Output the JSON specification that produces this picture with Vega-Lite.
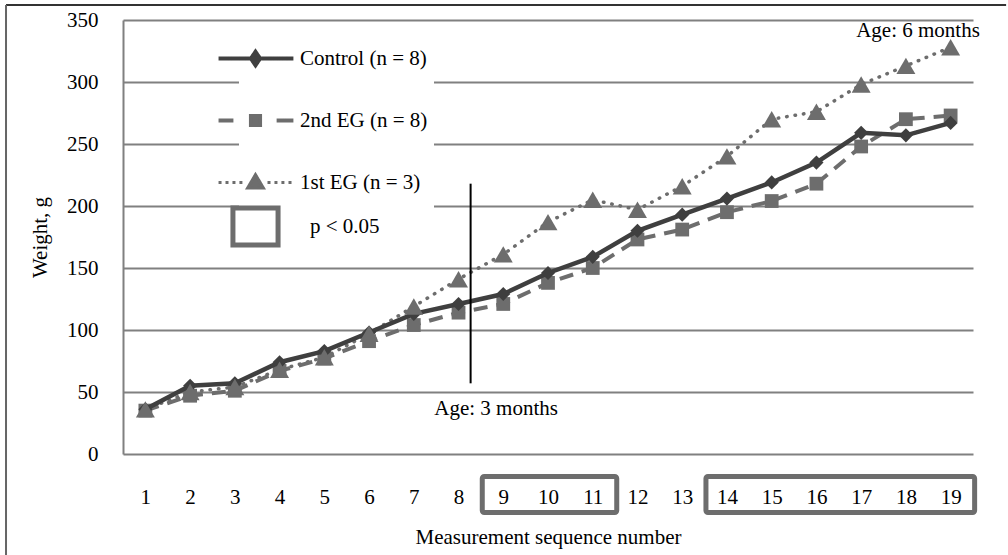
{
  "$schema": "https://vega.github.io/schema/vega-lite/v6.json",
  "width": 850,
  "height": 434,
  "padding": {"left": 5, "top": 3, "right": 0, "bottom": 0},
  "background": "white",
  "config": {
    "view": {"stroke": null},
    "font": "Liberation Serif",
    "axis": {"labelFont": "Liberation Serif", "titleFont": "Liberation Serif", "labelFontSize": 21, "titleFontSize": 21, "labelColor": "black", "titleColor": "black", "titleFontWeight": "normal"},
    "legend": {"labelFont": "Liberation Serif", "labelFontSize": 21, "labelColor": "black", "labelLimit": 400}
  },
  "datasets": {
    "weights": [
      {"x": 1, "g": "Control (n = 8)", "y": 36}, {"x": 2, "g": "Control (n = 8)", "y": 55}, {"x": 3, "g": "Control (n = 8)", "y": 57}, {"x": 4, "g": "Control (n = 8)", "y": 74}, {"x": 5, "g": "Control (n = 8)", "y": 83}, {"x": 6, "g": "Control (n = 8)", "y": 98}, {"x": 7, "g": "Control (n = 8)", "y": 113}, {"x": 8, "g": "Control (n = 8)", "y": 121}, {"x": 9, "g": "Control (n = 8)", "y": 129}, {"x": 10, "g": "Control (n = 8)", "y": 146}, {"x": 11, "g": "Control (n = 8)", "y": 159}, {"x": 12, "g": "Control (n = 8)", "y": 180}, {"x": 13, "g": "Control (n = 8)", "y": 193}, {"x": 14, "g": "Control (n = 8)", "y": 206}, {"x": 15, "g": "Control (n = 8)", "y": 219}, {"x": 16, "g": "Control (n = 8)", "y": 235}, {"x": 17, "g": "Control (n = 8)", "y": 259}, {"x": 18, "g": "Control (n = 8)", "y": 257}, {"x": 19, "g": "Control (n = 8)", "y": 267},
      {"x": 1, "g": "2nd EG (n = 8)", "y": 35}, {"x": 2, "g": "2nd EG (n = 8)", "y": 47}, {"x": 3, "g": "2nd EG (n = 8)", "y": 51}, {"x": 4, "g": "2nd EG (n = 8)", "y": 67}, {"x": 5, "g": "2nd EG (n = 8)", "y": 77}, {"x": 6, "g": "2nd EG (n = 8)", "y": 91}, {"x": 7, "g": "2nd EG (n = 8)", "y": 104}, {"x": 8, "g": "2nd EG (n = 8)", "y": 114}, {"x": 9, "g": "2nd EG (n = 8)", "y": 121}, {"x": 10, "g": "2nd EG (n = 8)", "y": 138}, {"x": 11, "g": "2nd EG (n = 8)", "y": 150}, {"x": 12, "g": "2nd EG (n = 8)", "y": 173}, {"x": 13, "g": "2nd EG (n = 8)", "y": 181}, {"x": 14, "g": "2nd EG (n = 8)", "y": 195}, {"x": 15, "g": "2nd EG (n = 8)", "y": 204}, {"x": 16, "g": "2nd EG (n = 8)", "y": 218}, {"x": 17, "g": "2nd EG (n = 8)", "y": 248}, {"x": 18, "g": "2nd EG (n = 8)", "y": 270}, {"x": 19, "g": "2nd EG (n = 8)", "y": 273},
      {"x": 1, "g": "1st EG (n = 3)", "y": 36}, {"x": 2, "g": "1st EG (n = 3)", "y": 50}, {"x": 3, "g": "1st EG (n = 3)", "y": 54}, {"x": 4, "g": "1st EG (n = 3)", "y": 68}, {"x": 5, "g": "1st EG (n = 3)", "y": 78}, {"x": 6, "g": "1st EG (n = 3)", "y": 97}, {"x": 7, "g": "1st EG (n = 3)", "y": 119}, {"x": 8, "g": "1st EG (n = 3)", "y": 141}, {"x": 9, "g": "1st EG (n = 3)", "y": 161}, {"x": 10, "g": "1st EG (n = 3)", "y": 187}, {"x": 11, "g": "1st EG (n = 3)", "y": 205}, {"x": 12, "g": "1st EG (n = 3)", "y": 197}, {"x": 13, "g": "1st EG (n = 3)", "y": 216}, {"x": 14, "g": "1st EG (n = 3)", "y": 240}, {"x": 15, "g": "1st EG (n = 3)", "y": 270}, {"x": 16, "g": "1st EG (n = 3)", "y": 276}, {"x": 17, "g": "1st EG (n = 3)", "y": 298}, {"x": 18, "g": "1st EG (n = 3)", "y": 313}, {"x": 19, "g": "1st EG (n = 3)", "y": 328}
    ],
    "sig": [{"x": 9, "x2": 11}, {"x": 14, "x2": 19}],
    "notes": [{"x": 8.84, "y": 36, "text": "Age: 3 months"}, {"x": 18.27, "y": 341, "text": "Age: 6 months"}],
    "vline": [{"x": 8.27, "y": 57, "y2": 218}],
    "frame": [{}]
  },
  "layer": [
    {
      "data": {"name": "weights"},
      "transform": [{"filter": "datum.g === '1st EG (n = 3)'"}],
      "mark": {"type": "line", "color": "#6d6d6d", "strokeWidth": 3.5, "strokeDash": [0.5, 8], "strokeCap": "round"},
      "encoding": {
        "x": {"field": "x", "type": "quantitative", "scale": {"domain": [0.5, 19.5], "nice": false, "zero": false},
          "axis": {"values": [1,2,3,4,5,6,7,8,9,10,11,12,13,14,15,16,17,18,19], "grid": false, "domain": false, "ticks": false, "labelPadding": 32, "labelFlush": false, "title": "Measurement sequence number", "titlePadding": 19}},
        "y": {"field": "y", "type": "quantitative", "scale": {"domain": [0, 350], "nice": false},
          "axis": {"values": [0,50,100,150,200,250,300,350], "grid": true, "gridColor": "#808080", "gridWidth": 1.8, "domain": true, "domainColor": "#808080", "domainWidth": 2, "ticks": false, "labelPadding": 25, "title": "Weight, g", "titlePadding": 16}}
      }
    },
    {
      "data": {"name": "weights"},
      "transform": [{"filter": "datum.g === '2nd EG (n = 8)'"}],
      "mark": {"type": "line", "color": "#6d6d6d", "strokeWidth": 4, "strokeDash": [14, 9]},
      "encoding": {
        "x": {"field": "x", "type": "quantitative", "scale": {"domain": [0.5, 19.5], "nice": false, "zero": false}},
        "y": {"field": "y", "type": "quantitative", "scale": {"domain": [0, 350], "nice": false}}
      }
    },
    {
      "data": {"name": "weights"},
      "transform": [{"filter": "datum.g === '2nd EG (n = 8)'"}],
      "mark": {"type": "point", "shape": "square", "filled": true, "size": 190, "color": "#6d6d6d", "opacity": 1},
      "encoding": {
        "x": {"field": "x", "type": "quantitative", "scale": {"domain": [0.5, 19.5], "nice": false, "zero": false}},
        "y": {"field": "y", "type": "quantitative", "scale": {"domain": [0, 350], "nice": false}}
      }
    },
    {
      "data": {"name": "weights"},
      "transform": [{"filter": "datum.g === 'Control (n = 8)'"}],
      "mark": {"type": "line", "strokeWidth": 4.5},
      "encoding": {
        "x": {"field": "x", "type": "quantitative", "scale": {"domain": [0.5, 19.5], "nice": false, "zero": false}},
        "y": {"field": "y", "type": "quantitative", "scale": {"domain": [0, 350], "nice": false}},
        "color": {"field": "g", "type": "nominal",
          "scale": {"domain": ["Control (n = 8)", "2nd EG (n = 8)", "1st EG (n = 3)", "p < 0.05"], "range": ["#3f3f3f", "#6d6d6d", "#6d6d6d", "#6d6d6d"]},
          "legend": {
            "orient": "none", "legendX": 116, "legendY": 22, "title": null, "padding": 6,
            "fillColor": "white", "strokeColor": null,
            "symbolSize": 2304, "symbolStrokeWidth": 4, "symbolOffset": 0, "labelOffset": 34,
            "rowPadding": 3, "labelFont": "Liberation Serif", "labelFontSize": 21, "labelColor": "black", "labelLimit": 400,
            "encode": {
              "symbols": {"update": {
                "shape": {"signal": "datum.value === 'Control (n = 8)' ? 'M0,1.53M-1.54,0H1.58M0,-0.28L0.19,0L0,0.28L-0.19,0Z' : datum.value === '2nd EG (n = 8)' ? 'M0,1.5M-1.54,0H-0.92M0.88,0H1.58M-0.19,-0.19H0.19V0.19H-0.19Z' : datum.value === '1st EG (n = 3)' ? 'M-1.54,0h0.125M-1.25,0h0.125M-0.96,0h0.125M-0.67,0h0.125M0.5,0h0.125M0.79,0h0.125M1.08,0h0.125M1.375,0h0.125M0,-0.33L0.33,0.23H-0.33Z' : 'M-0.94,-0.77H0.94V0.77H-0.94Z'"},
                "fill": {"signal": "datum.value === 'p < 0.05' ? 'white' : (datum.value === 'Control (n = 8)' ? '#3f3f3f' : '#6d6d6d')"},
                "stroke": {"signal": "datum.value === 'Control (n = 8)' ? '#3f3f3f' : '#6d6d6d'"},
                "strokeWidth": {"signal": "datum.value === 'p < 0.05' ? 5 : (datum.value === '1st EG (n = 3)' ? 3 : 4)"},
                "strokeDash": {"value": [1, 0]},
                "opacity": {"value": 1}, "fillOpacity": {"value": 1}, "strokeOpacity": {"value": 1}
              }},
              "labels": {"update": {"dx": {"signal": "datum.value === 'p < 0.05' ? 10 : 0"}, "font": {"value": "Liberation Serif"}, "fontSize": {"value": 21}}}
            }
          }}
      }
    },
    {
      "data": {"name": "weights"},
      "transform": [{"filter": "datum.g === 'Control (n = 8)'"}],
      "mark": {"type": "point", "shape": "diamond", "filled": true, "size": 200, "color": "#3f3f3f", "opacity": 1},
      "encoding": {
        "x": {"field": "x", "type": "quantitative", "scale": {"domain": [0.5, 19.5], "nice": false, "zero": false}},
        "y": {"field": "y", "type": "quantitative", "scale": {"domain": [0, 350], "nice": false}}
      }
    },
    {
      "data": {"name": "weights"},
      "transform": [{"filter": "datum.g === '1st EG (n = 3)'"}],
      "mark": {"type": "point", "shape": "triangle-up", "filled": true, "size": 360, "color": "#6d6d6d", "opacity": 1},
      "encoding": {
        "x": {"field": "x", "type": "quantitative", "scale": {"domain": [0.5, 19.5], "nice": false, "zero": false}},
        "y": {"field": "y", "type": "quantitative", "scale": {"domain": [0, 350], "nice": false}}
      }
    },
    {
      "data": {"name": "vline"},
      "mark": {"type": "rule", "color": "black", "strokeWidth": 2},
      "encoding": {
        "x": {"field": "x", "type": "quantitative", "scale": {"domain": [0.5, 19.5], "nice": false, "zero": false}},
        "y": {"field": "y", "type": "quantitative", "scale": {"domain": [0, 350], "nice": false}},
        "y2": {"field": "y2"}
      }
    },
    {
      "data": {"name": "notes"},
      "mark": {"type": "text", "font": "Liberation Serif", "fontSize": 21, "color": "black", "align": "center", "baseline": "middle"},
      "encoding": {
        "x": {"field": "x", "type": "quantitative", "scale": {"domain": [0.5, 19.5], "nice": false, "zero": false}},
        "y": {"field": "y", "type": "quantitative", "scale": {"domain": [0, 350], "nice": false}},
        "text": {"field": "text"}
      }
    },
    {
      "data": {"name": "sig"},
      "mark": {"type": "rect", "fill": null, "stroke": "#6d6d6d", "strokeWidth": 5, "cornerRadius": 2, "xOffset": -21, "x2Offset": 24},
      "encoding": {
        "x": {"field": "x", "type": "quantitative", "scale": {"domain": [0.5, 19.5], "nice": false, "zero": false}},
        "x2": {"field": "x2"},
        "y": {"datum": -18.1, "type": "quantitative", "scale": {"domain": [0, 350], "nice": false}},
        "y2": {"datum": -47.2}
      }
    },
    {
      "data": {"name": "frame"},
      "mark": {"type": "rule", "color": "#333333", "strokeWidth": 2},
      "encoding": {
        "x": {"datum": -2.115, "type": "quantitative", "scale": {"domain": [0.5, 19.5], "nice": false, "zero": false}},
        "x2": {"datum": 20.24},
        "y": {"datum": 362.1, "type": "quantitative", "scale": {"domain": [0, 350], "nice": false}}
      }
    },
    {
      "data": {"name": "frame"},
      "mark": {"type": "rule", "color": "#666666", "strokeWidth": 2},
      "encoding": {
        "x": {"datum": -2.115, "type": "quantitative", "scale": {"domain": [0.5, 19.5], "nice": false, "zero": false}},
        "y": {"datum": 362.1, "type": "quantitative", "scale": {"domain": [0, 350], "nice": false}},
        "y2": {"datum": -81.5}
      }
    }
  ]
}
